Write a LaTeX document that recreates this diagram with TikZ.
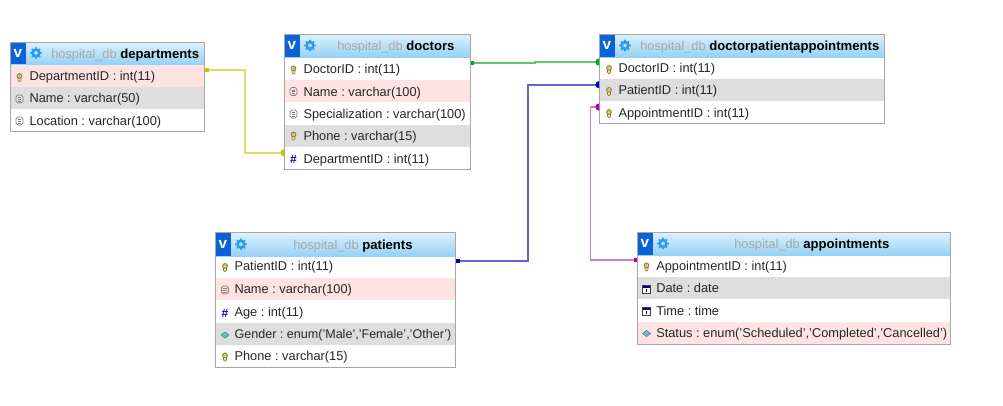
\documentclass[tikz,border=0pt]{standalone}
\usepackage{fontspec}
\setmainfont{Liberation Sans}
\usetikzlibrary{calc}
\definecolor{hdrtop}{HTML}{DDF1FC}
\definecolor{hdrbot}{HTML}{96D2F6}
\definecolor{rowpink}{HTML}{FFE3E3}
\definecolor{rowgrey}{HTML}{DEDEDE}
\definecolor{edgegrey}{HTML}{A6A6A6}
\definecolor{vblue}{HTML}{0A62D6}
\definecolor{gearblue}{HTML}{2A9DF0}
\definecolor{dbgrey}{HTML}{A8A8A8}
\definecolor{txt}{HTML}{262626}
\definecolor{keyc}{HTML}{8C8440}
\definecolor{keyf}{HTML}{F2E88A}
\definecolor{cyellow}{HTML}{DCDC5C}
\definecolor{cgreen}{HTML}{5CCB60}
\definecolor{cblue}{HTML}{6466C6}
\definecolor{cpurple}{HTML}{CC7CD2}
\definecolor{dyellow}{HTML}{C8C800}
\definecolor{dgreen}{HTML}{00AA20}
\definecolor{dblue}{HTML}{0000B4}
\definecolor{dpurple}{HTML}{B400B4}
\newcommand{\hdrname}[1]{\textcolor{black}{\bfseries\fontsize{9.85}{11}\selectfont #1}}
\tikzset{
  x=0.75pt,y=-0.75pt,
  rowtext/.style={anchor=base west,inner sep=0pt,font=\fontsize{9.6}{11}\selectfont,text=txt},
  hdrtext/.style={anchor=base west,inner sep=0pt,font=\fontsize{9.6}{11}\selectfont,text=dbgrey},
  frame/.style={draw=edgegrey,line width=0.75pt,inner sep=0pt},
  link/.style={line width=1.4pt},
}
\newcommand{\tblhead}[4]{%
  \shade[top color=hdrtop,bottom color=hdrbot] (#1,#3) rectangle (#2,#4);
  \fill[vblue] (#1,#3) rectangle (#1+15,#4);
  \node[inner sep=0pt,font=\bfseries\fontsize{11.5}{12}\selectfont,text=white] at ($(#1,#3)!0.5!(#1+15,#4)$) {v};
  \foreach \a in {0,45,...,315}{\fill[gearblue] (#1+25.5,{(#3+#4)/2}) ++(\a:5) circle[radius=1.15];}
  \fill[gearblue,even odd rule] (#1+25.5,{(#3+#4)/2}) circle[radius=4.8] (#1+25.5,{(#3+#4)/2}) circle[radius=2];
}
\newcommand{\rowbg}[5]{\fill[#5] (#1,#3) rectangle (#2,#4);}
\newcommand{\keyicon}[2]{%
  \fill[keyf,draw=keyc,line width=0.55pt,rounded corners=0.8pt] (#1-1.4,#2-0.5) rectangle (#1+1.4,#2+4);
  \draw[keyc,line width=0.8pt,fill=keyf] (#1,#2-1.6) circle[radius=2.3];
  \fill[keyc] (#1,#2-1.8) circle[radius=0.7];}
\newcommand{\colicon}[2]{%
  \draw[gray,line width=0.55pt,rounded corners=1.4pt] (#1-3.5,#2-4) rectangle (#1+3.5,#2+4);
  \draw[gray,line width=0.45pt] (#1-1.8,#2-1.4) -- (#1+1.8,#2-1.4) (#1-1.8,#2+0.2) -- (#1+1.8,#2+0.2) (#1-1.8,#2+1.8) -- (#1+1.8,#2+1.8);}
\newcommand{\numicon}[2]{\node[inner sep=0pt,text=blue!75!black,font=\bfseries\fontsize{9}{9}\selectfont] at (#1,#2) {\#};}
\newcommand{\enumicon}[2]{\fill[teal!55!white,draw=teal!70!gray,line width=0.3pt] (#1,#2-3.2) -- (#1+4,#2) -- (#1,#2+3.2) -- (#1-4,#2) -- cycle;}
\newcommand{\dateicon}[2]{%
  \draw[gray!50!black,line width=0.4pt,fill=white] (#1-3.8,#2-3.8) rectangle (#1+3.8,#2+3.8);
  \fill[blue!55!black] (#1-3.8,#2-3.8) rectangle (#1+3.8,#2-1.8);
  \fill[black] (#1-0.6,#2-0.8) rectangle (#1+0.6,#2+2.8);}
\newcommand{\halfdot}[2]{\fill[#1] (#2) +(0,-3.6) arc[start angle=-90,end angle=-270,radius=3.6] -- cycle;}
\begin{document}
\frenchspacing
\begin{tikzpicture}
\useasboundingbox (0,0) rectangle (1003,405);
\fill[white] (0,0) rectangle (1003,405);
% ---------- departments
\rowbg{10.5}{204}{64}{87}{rowpink}
\rowbg{10.5}{204}{87}{109}{rowgrey}
\tblhead{10.5}{204}{42}{64}
\node[frame,draw,minimum width=193.5*0.75pt,minimum height=89*0.75pt] (departments) at (107.25,86.5) {};
\node[hdrtext] (departmentsT) at (51,58.3) {hospital\_db \hdrname{departments}};
\keyicon{19.5}{77.5}
\colicon{19.5}{99}
\colicon{19.5}{121}
\node[rowtext] (d1) at (29.3,80.7) {DepartmentID : int(11)};
\node[rowtext] (d2) at (29.3,102.3) {Name : varchar(50)};
\node[rowtext] (d3) at (29.3,125.2) {Location : varchar(100)};
% ---------- doctors
\rowbg{284.5}{470}{79.5}{102}{rowpink}
\rowbg{284.5}{470}{124.5}{147}{rowgrey}
\tblhead{284.5}{470}{34}{57}
\node[frame,draw,minimum width=185.5*0.75pt,minimum height=135*0.75pt] (doctors) at (377.25,101.5) {};
\node[hdrtext] (doctorsT) at (337,50.5) {hospital\_db \hdrname{doctors}};
\keyicon{293.5}{70}
\colicon{293.5}{91.5}
\colicon{293.5}{114}
\keyicon{293.5}{136}
\numicon{293.5}{159}
\node[rowtext] (o1) at (303.3,73.5) {DoctorID : int(11)};
\node[rowtext] (o2) at (303.3,96) {Name : varchar(100)};
\node[rowtext] (o3) at (303.3,118.5) {Specialization : varchar(100)};
\node[rowtext] (o4) at (303.3,140.5) {Phone : varchar(15)};
\node[rowtext] (o5) at (303.3,163) {DepartmentID : int(11)};
% ---------- doctorpatientappointments
\rowbg{599.5}{884.5}{79}{101}{rowgrey}
\tblhead{599.5}{884.5}{34}{57}
\node[frame,draw,minimum width=285*0.75pt,minimum height=89*0.75pt] (dpa) at (742,78.5) {};
\node[hdrtext] (dpaT) at (640,50) {hospital\_db \hdrname{doctorpatientappointments}};
\keyicon{609}{69.5}
\keyicon{609}{91.5}
\keyicon{609}{113.5}
\node[rowtext] (p1) at (618.3,72.7) {DoctorID : int(11)};
\node[rowtext] (p2) at (618.3,94.8) {PatientID : int(11)};
\node[rowtext] (p3) at (618.3,117.3) {AppointmentID : int(11)};
% ---------- patients
\rowbg{215.5}{455.5}{278}{300}{rowpink}
\rowbg{215.5}{455.5}{322.5}{345}{rowgrey}
\tblhead{215.5}{455.5}{232.5}{256}
\node[frame,draw,minimum width=240*0.75pt,minimum height=135.5*0.75pt] (patients) at (335.5,300) {};
\node[hdrtext] (patientsT) at (293,249) {hospital\_db \hdrname{patients}};
\keyicon{225}{267.5}
\colicon{225}{290}
\numicon{225}{313}
\enumicon{225}{335}
\keyicon{225}{357}
\node[rowtext] (a1) at (234.3,270.7) {PatientID : int(11)};
\node[rowtext] (a2) at (234.3,293) {Name : varchar(100)};
\node[rowtext] (a3) at (234.3,316) {Age : int(11)};
\node[rowtext,font=\fontsize{9.42}{11}\selectfont] (a4) at (234.3,338.3) {Gender : enum('Male','Female','Other')};
\node[rowtext] (a5) at (234.3,360) {Phone : varchar(15)};
% ---------- appointments
\rowbg{637.5}{950.5}{277}{299}{rowgrey}
\rowbg{637.5}{950.5}{321.5}{344.5}{rowpink}
\tblhead{637.5}{950.5}{232}{255}
\node[frame,draw,minimum width=313*0.75pt,minimum height=112.5*0.75pt] (appointments) at (794,288.25) {};
\node[hdrtext] (appointmentsT) at (734,248) {hospital\_db \hdrname{appointments}};
\keyicon{646.5}{267}
\dateicon{646.5}{289.5}
\dateicon{646.5}{311.5}
\enumicon{646.5}{333.5}
\node[rowtext] (b1) at (656,270) {AppointmentID : int(11)};
\node[rowtext] (b2) at (656,292.7) {Date : date};
\node[rowtext] (b3) at (656,315) {Time : time};
\node[rowtext] (b4) at (656,337.3) {Status : enum('Scheduled','Completed','Cancelled')};
% ---------- connectors
\coordinate (yS) at (departments.east |- 0,70);
\coordinate (yE) at (doctors.west |- 0,152.7);
\draw[link,cyellow] (yS) -- (245,70) -- (245,152.7) -- (yE);
\fill[dyellow] (yS) +(0,-1.8) rectangle +(4,1.8);
\halfdot{dyellow}{yE}
\coordinate (gS) at (doctors.east |- 0,62.7);
\coordinate (gE) at (dpa.west |- 0,62);
\draw[link,cgreen] (gS) -- (535,62.7) -- (535,62) -- (gE);
\fill[dgreen] (gS) +(0,-1.8) rectangle +(3.5,1.8);
\halfdot{dgreen}{gE}
\coordinate (bS) at (patients.east |- 0,261);
\coordinate (bE) at (dpa.west |- 0,84.7);
\draw[link,cblue] (bS) -- (528,261) -- (528,84.7) -- (bE);
\fill[dblue] (bS) +(0,-1.8) rectangle +(3.5,1.8);
\halfdot{dblue}{bE}
\coordinate (mS) at (appointments.west |- 0,260);
\coordinate (mE) at (dpa.west |- 0,107);
\draw[link,cpurple] (mS) -- (590.5,260) -- (590.5,107) -- (mE);
\fill[dpurple] (mS) +(0,-1.8) rectangle +(-3,1.8);
\halfdot{dpurple}{mE}
\end{tikzpicture}
\end{document}
